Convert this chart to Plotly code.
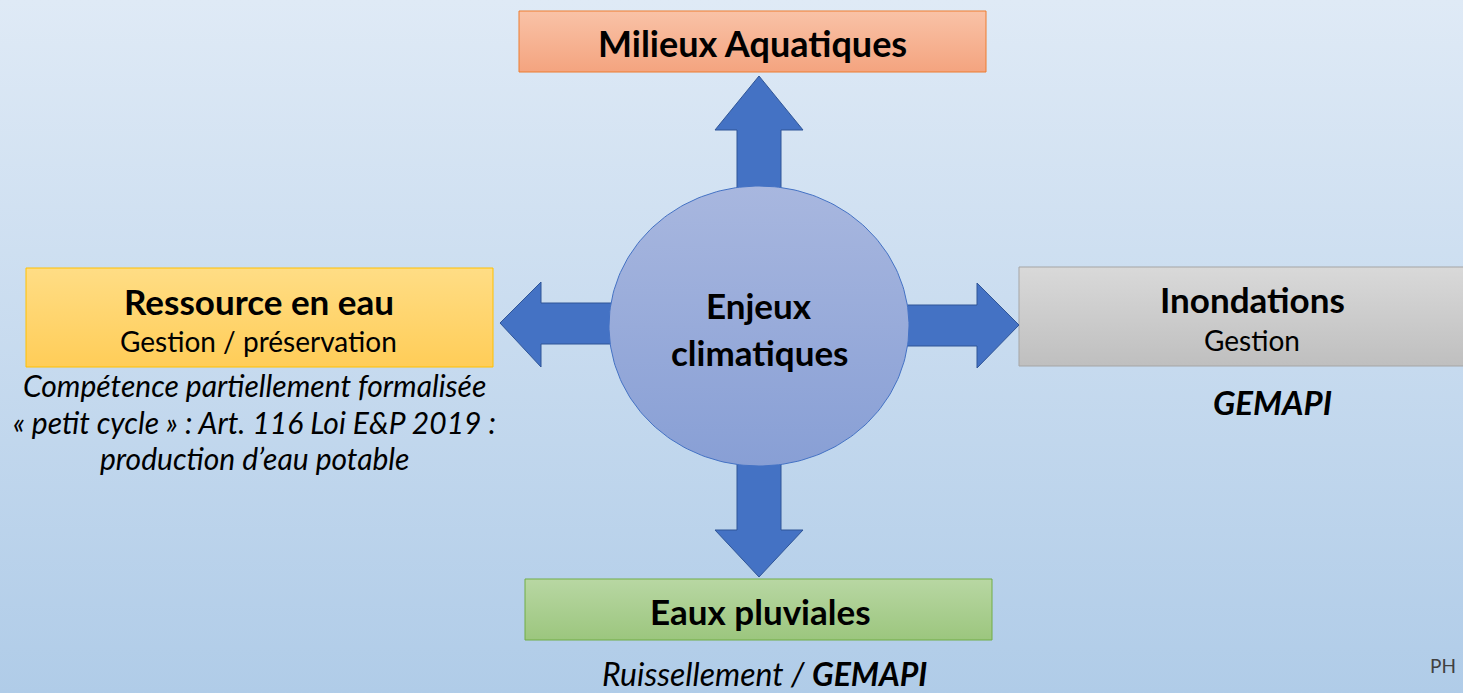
import numpy as np
import plotly.graph_objects as go

W, H = 1463, 693
FONT = "Lato"

# ---- diagram content ----
center_lines = ["Enjeux", "climatiques"]
top_title = "Milieux Aquatiques"
left_title = "Ressource en eau"
left_sub = "Gestion / préservation"
left_notes = ["Compétence partiellement formalisée",
              "« petit cycle » : Art. 116 Loi E&P 2019 :",
              "production d’eau potable"]
right_title = "Inondations"
right_sub = "Gestion"
right_note = "GEMAPI"
bottom_title = "Eaux pluviales"
bottom_note = ["Ruissellement / ", "GEMAPI"]
corner_text = "PH"

# ---- geometry (pixel space) ----
boxes = {
    "top":    dict(x0=519, x1=986, y0=11, y1=72, c0="#f9c2a7", c1="#f4a47f", border="#ed7d31"),
    "left":   dict(x0=26, x1=493, y0=268, y1=367, c0="#ffdd85", c1="#ffcd58", border="#ffc000"),
    "right":  dict(x0=1019, x1=1475, y0=267, y1=366, c0="#d9d9d9", c1="#bfbfbf", border="#a5a5a5"),
    "bottom": dict(x0=525, x1=992, y0=579, y1=640, c0="#b8d7a3", c1="#9cc67e", border="#70ad47"),
}
circle = dict(cx=759, cy=326, rx=150, ry=140, c0="#a8b7df", c1="#889fd5", border="#4472c4")
ARROW_FILL = "#4472c4"
ARROW_LINE = "#2f5597"

fig = go.Figure()


def grad_scale(top, bottom):
    # with the reversed y axis, colorscale 0 maps to the bottom of the picture
    return [[0, bottom], [1, top]]


# background gradient
fig.add_trace(go.Scatter(
    x=[0, W, W, 0, 0], y=[0, 0, H, H, 0], mode="lines", fill="toself",
    line=dict(width=0), hoverinfo="skip", showlegend=False,
    fillgradient=dict(type="vertical", colorscale=grad_scale("#dfeaf6", "#b0cce8"))))


def add_poly(xs, ys, fill=None, grad=None, line_color=None, lw=1):
    kw = dict(x=xs, y=ys, mode="lines", fill="toself",
              line=dict(width=lw, color=line_color), hoverinfo="skip", showlegend=False)
    if grad:
        kw["fillgradient"] = dict(type="vertical", colorscale=grad_scale(grad[0], grad[1]))
    else:
        kw["fillcolor"] = fill
    fig.add_trace(go.Scatter(**kw))


# boxes
for b in boxes.values():
    add_poly([b["x0"], b["x1"], b["x1"], b["x0"], b["x0"]],
             [b["y0"], b["y0"], b["y1"], b["y1"], b["y0"]],
             grad=(b["c0"], b["c1"]), line_color=b["border"], lw=1)

# arrows
cx, cy = circle["cx"], circle["cy"]
# up
add_poly([cx, 803, 781, 781, 737, 737, 715, cx],
         [76, 130, 130, 200, 200, 130, 130, 76], fill=ARROW_FILL, line_color=ARROW_LINE)
# down
add_poly([cx, 803, 781, 781, 737, 737, 715, cx],
         [577, 530, 530, 450, 450, 530, 530, 577], fill=ARROW_FILL, line_color=ARROW_LINE)
# left
add_poly([500, 541, 541, 620, 620, 541, 541, 500],
         [323, 282, 303, 303, 344, 344, 367, 323], fill=ARROW_FILL, line_color=ARROW_LINE)
# right
add_poly([1019, 977, 977, 900, 900, 977, 977, 1019],
         [325, 283, 305, 305, 346, 346, 368, 325], fill=ARROW_FILL, line_color=ARROW_LINE)

# circle
t = np.linspace(0, 2 * np.pi, 241)
add_poly(cx + circle["rx"] * np.cos(t), cy + circle["ry"] * np.sin(t),
         grad=(circle["c0"], circle["c1"]), line_color=circle["border"], lw=1)


def ann(x, y, text, size, color="black", xanchor="center"):
    fig.add_annotation(x=x, y=y, text=text, showarrow=False, xanchor=xanchor, yanchor="middle",
                       font=dict(family=FONT, size=size, color=color))


ann(752, 43, f"<b>{top_title}</b>", 36)
ann(759, 305, f"<b>{center_lines[0]}</b>", 35)
ann(759, 352, f"<b>{center_lines[1]}</b>", 35)
ann(259, 301, f"<b>{left_title}</b>", 35)
ann(258, 341, left_sub, 28)
for i, line in enumerate(left_notes):
    ann(254, 385 + i * 36.5, f"<i>{line}</i>", 30)
ann(1252, 299, f"<b>{right_title}</b>", 35)
ann(1252, 340, right_sub, 28)
ann(1272, 402, f"<b><i>{right_note}</i></b>", 33)
ann(760, 611, f"<b>{bottom_title}</b>", 35)
ann(764, 673, f"<i>{bottom_note[0]}</i><b><i>{bottom_note[1]}</i></b>", 32)
ann(1458, 665, corner_text, 19, color="#404040", xanchor="right")

fig.update_layout(
    width=W, height=H, margin=dict(l=0, r=0, t=0, b=0),
    paper_bgcolor="#c8dcf0", plot_bgcolor="#c8dcf0",
    xaxis=dict(range=[0, W], visible=False, fixedrange=True),
    yaxis=dict(range=[H, 0], visible=False, fixedrange=True),
    showlegend=False,
)
fig.write_html("out.html", config={"displayModeBar": False},
               post_script="document.body.style.margin='0';")
